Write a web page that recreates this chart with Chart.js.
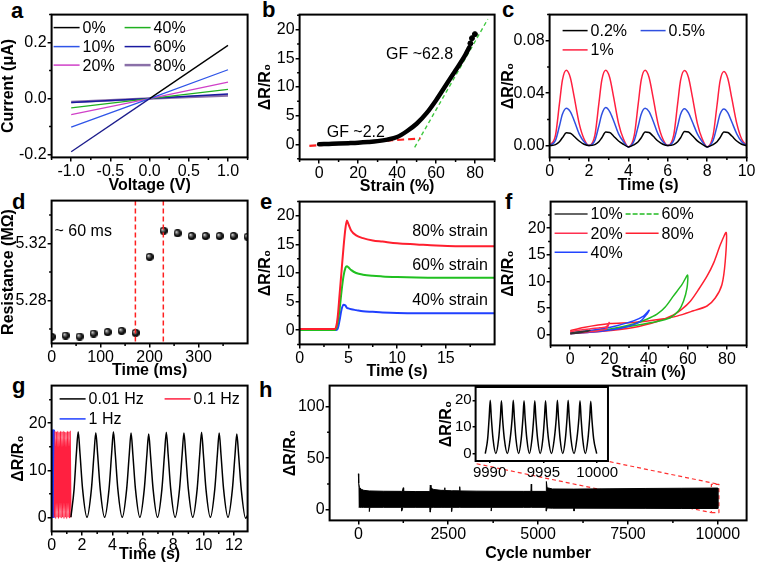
<!DOCTYPE html>
<html>
<head>
<meta charset="utf-8">
<script src="https://cdn.jsdelivr.net/npm/chart.js@4.4.0/dist/chart.umd.min.js"></script>
<style>
  html, body { margin: 0; padding: 0; background: #fff; }
  #fig { position: relative; width: 758px; height: 564px; overflow: hidden; background: #fff; }
  .tag { position: absolute; font: bold 22px/22px "Liberation Sans", Arial, sans-serif; color: #000; }
</style>
</head>
<body>
<div id="fig">
  <div class="tag" style="left:11px;top:0px">a</div>
  <div class="tag" style="left:262px;top:-1px">b</div>
  <div class="tag" style="left:502px;top:-1px">c</div>
  <div class="tag" style="left:12px;top:191px">d</div>
  <div class="tag" style="left:260px;top:191px">e</div>
  <div class="tag" style="left:505px;top:191px">f</div>
  <div class="tag" style="left:12px;top:375px">g</div>
  <div class="tag" style="left:259px;top:379px">h</div>
</div>
<script>
// ---- a: I-V curves at different strains
var aVolt = [-1, 0, 1];
var aLabels = ['0%', '10%', '20%', '40%', '60%', '80%'];
var aCur0 = [-0.19, 0, 0.19];
var aCur10 = [-0.102, 0, 0.103];
var aCur20 = [-0.057, 0, 0.059];
var aCur40 = [-0.033, 0, 0.033];
var aCur60 = [-0.014, 0, 0.016];
var aCur80 = [-0.012, 0, 0.011];

// ---- b: response vs strain
var bStrain = [0, 5, 10, 15, 20, 25, 30, 35, 40, 45, 50, 55, 60, 65, 70, 75, 77];
var bResp = [0.05, 0.1, 0.15, 0.22, 0.3, 0.42, 0.58, 0.85, 1.3, 2.3, 3.6, 5.4, 7.7, 10.3, 12.9, 15.6, 16.9];
var bEndStrain = [77.6, 78.4, 79.9];
var bEndResp = [17.6, 18.5, 19.2];
var bLowFitX = [-5, 52], bLowFitY = [-0.25, 1.05];
var bHighFitX = [49, 86.5], bHighFitY = [-0.5, 21.8];

// ---- c: small strains
var cLabels = ['0.2%', '0.5%', '1%'];
var cTime = [0, 0.3, 0.5, 0.65, 0.85, 1.05, 1.25, 1.5, 1.75,
  2, 2.3, 2.5, 2.65, 2.85, 3.05, 3.25, 3.5, 3.75,
  4, 4.3, 4.5, 4.65, 4.85, 5.05, 5.25, 5.5, 5.75,
  6, 6.3, 6.5, 6.65, 6.85, 7.05, 7.25, 7.5, 7.75,
  8, 8.3, 8.5, 8.65, 8.85, 9.05, 9.25, 9.5, 9.75, 10];
var cBlack = [0, 0.0008, 0.003, 0.006, 0.0098, 0.0095, 0.007, 0.0035, 0.001,
  0, 0.0008, 0.003, 0.006, 0.0103, 0.010, 0.0072, 0.0035, 0.001,
  -0.001, 0.0008, 0.003, 0.006, 0.0104, 0.010, 0.0073, 0.0035, 0.001,
  0, 0.0008, 0.003, 0.006, 0.0108, 0.0104, 0.0075, 0.0036, 0.001,
  -0.001, 0.0008, 0.003, 0.006, 0.0104, 0.010, 0.0073, 0.0035, 0.001, 0];
var cBlue = [0, 0.004, 0.015, 0.024, 0.0286, 0.026, 0.019, 0.009, 0.003,
  0, 0.004, 0.015, 0.024, 0.0290, 0.026, 0.019, 0.009, 0.003,
  -0.001, 0.004, 0.015, 0.024, 0.0285, 0.026, 0.019, 0.009, 0.003,
  0, 0.004, 0.015, 0.024, 0.0282, 0.025, 0.018, 0.009, 0.003,
  -0.001, 0.004, 0.015, 0.024, 0.0280, 0.025, 0.018, 0.009, 0.003, 0];
var cRed = [0, 0.008, 0.032, 0.050, 0.0575, 0.052, 0.037, 0.017, 0.005,
  0, 0.008, 0.032, 0.050, 0.0575, 0.052, 0.037, 0.017, 0.005,
  -0.001, 0.008, 0.032, 0.050, 0.0575, 0.052, 0.037, 0.017, 0.005,
  0, 0.008, 0.032, 0.050, 0.0573, 0.052, 0.037, 0.017, 0.005,
  -0.001, 0.008, 0.031, 0.049, 0.0565, 0.051, 0.036, 0.017, 0.005, 0];

// ---- d: response time
var dTime = [0, 28.6, 57.1, 85.7, 114.3, 142.9, 171.4, 200, 228.6, 257.1, 285.7, 314.3, 342.9, 371.4, 400];
var dRes = [5.2546, 5.2555, 5.2548, 5.2569, 5.2579, 5.2588, 5.2574, 5.3106, 5.3289, 5.3271, 5.3252, 5.3252, 5.3252, 5.3252, 5.3247];
var dMarks = [171, 228];

// ---- e: step strains
var eTime = [0, 3.6, 3.75, 3.9, 4.1, 4.3, 4.5, 4.7, 4.85, 5.0, 5.3, 5.8, 6.5, 7.5, 8.5, 10, 12, 14, 16, 20];
var e80 = [0.2, 0.2, 0.6, 2.2, 6.2, 10.3, 14.4, 17.8, 19.2, 18.6, 17.4, 16.6, 16.1, 15.7, 15.5, 15.2, 15.0, 14.8, 14.7, 14.7];
var e60 = [0, 0, 0.3, 1.3, 3.6, 6.8, 9.4, 10.9, 11.2, 11.0, 10.5, 10.0, 9.7, 9.5, 9.4, 9.3, 9.2, 9.15, 9.15, 9.15];
var e40 = [0, 0, 0, 0.2, 1.7, 3.6, 4.45, 4.3, 3.9, 3.8, 3.65, 3.5, 3.3, 3.2, 3.1, 3.0, 2.95, 2.95, 2.95, 2.95];

// ---- f: hysteresis loops
var fLabels = ['10%', '20%', '40%', '60%', '80%'];
var f10X = [0, 4, 8, 10, 7, 3, 0];
var f10Y = [0.2, 0.35, 0.6, 0.8, 0.65, 0.45, 0.3];
var f20X = [0, 5, 10, 15, 18.5, 19.9, 18.5, 15, 10, 5, 0];
var f20Y = [0.25, 0.4, 0.55, 0.8, 1.1, 2.3, 1.5, 1.3, 1.1, 0.9, 0.55];
var f40X = [0, 10, 20.4, 28.9, 35.7, 39.1, 40.3, 37.4, 32.3, 23.8, 15.3, 6.8, 0];
var f40Y = [0.25, 0.45, 0.87, 1.5, 2.5, 3.85, 4.6, 3.5, 2.6, 1.7, 1.06, 0.6, 0.3];
var f60X = [0, 6.8, 20.4, 32.3, 44.3, 51, 55.3, 57.8, 59.6, 59.9, 57, 52.7, 48.5, 44.3, 39.1, 32.3, 20.4, 6.8, 0];
var f60Y = [0.3, 0.55, 1.0, 1.7, 2.5, 3.2, 4.5, 6.3, 8.8, 11.2, 9.4, 7.3, 5.2, 3.85, 2.9, 2.0, 1.06, 0.56, 0.3];
var f80X = [0, 15.3, 32.3, 44.3, 52.7, 57, 61.3, 65.5, 69.8, 73.2, 76.6, 79.6, 79.1, 77.4, 74, 69.8, 62.9, 54.5, 45.9, 32.3, 20.4, 6.8, 0];
var f80Y = [0.25, 0.62, 1.36, 2.48, 3.72, 4.8, 6.3, 8.5, 11.0, 13.5, 16.9, 19.2, 13.8, 9.4, 6.9, 5.4, 4.5, 3.5, 2.9, 2.3, 2.1, 1.36, 0.74];

// ---- g: frequencies
var gLabels = ['0.01 Hz', '0.1 Hz', '1 Hz'];
var gSlowT = [1.27, 1.48, 1.63, 1.75, 1.87, 2.04,
  2.33, 2.62, 2.79, 2.91, 3.03, 3.20,
  3.49, 3.78, 3.95, 4.07, 4.19, 4.36,
  4.65, 4.94, 5.11, 5.23, 5.35, 5.52,
  5.81, 6.10, 6.27, 6.39, 6.51, 6.68,
  6.97, 7.26, 7.43, 7.55, 7.67, 7.84,
  8.13, 8.42, 8.59, 8.71, 8.83, 9.00,
  9.29, 9.58, 9.75, 9.87, 9.99, 10.16,
  10.45, 10.74, 10.91, 11.03, 11.15, 11.32,
  11.61, 11.90, 12.07, 12.19, 12.31, 12.48,
  12.77, 12.9];
var gSlowV = [0, 6, 13.5, 18.2, 13.5, 6,
  0, 6, 13.4, 18.0, 13.4, 6,
  0, 6, 13.5, 18.2, 13.5, 6,
  0, 6, 13.3, 17.9, 13.3, 6,
  0, 6, 13.2, 17.7, 13.2, 6,
  0, 6, 13.4, 18.1, 13.4, 6,
  0, 6, 13.3, 17.9, 13.3, 6,
  0, 6, 13.4, 18.1, 13.4, 6,
  0, 6, 13.3, 17.9, 13.3, 6,
  0, 6, 13.2, 17.7, 13.2, 6,
  -0.2, 0.4];
var gMidT = [0.18, 0.225, 0.271, 0.316, 0.362, 0.407, 0.452, 0.498, 0.543, 0.588, 0.634, 0.679, 0.725,
  0.770, 0.816, 0.861, 0.906, 0.952, 0.997, 1.042, 1.088, 1.133, 1.179, 1.224, 1.27];
var gMidV = [0, 18.3, -0.3, 18.2, 0, 18.3, -0.3, 18.1, 0, 18.3, -0.2, 18.2, 0,
  18.3, -0.3, 18.2, 0, 18.1, -0.3, 18.3, 0, 18.2, -0.2, 18.3, 0];
var gFastT = [0.03, 0.037, 0.044, 0.051, 0.058, 0.065, 0.072, 0.079, 0.086, 0.093, 0.100,
  0.107, 0.114, 0.121, 0.128, 0.135, 0.142, 0.149, 0.156, 0.163, 0.170, 0.177];
var gFastV = [0, 18.6, 0, 18.5, 0, 18.6, 0, 18.5, 0, 18.6, 0,
  18.5, 0, 18.6, 0, 18.5, 0, 18.6, 0, 18.5, 0, 18.6];

// ---- h: 10000 cycles (envelope of the dense trace)
var hCycle = [0, 10, 30, 80, 150,
  300, 310, 320, 700,
  1200, 1210, 1220, 1240, 1250, 1260,
  1600, 1990, 2000, 2020, 2100, 2300,
  2390, 2400, 2410,
  2590, 2600, 2610,
  2810, 2820, 2830,
  3300,
  3690, 3700, 3710,
  4600,
  4800, 4810, 4820,
  5200, 5220, 5230, 5250, 5400,
  5990, 6000, 6010,
  7000, 8000, 9000, 10000];
var hHigh = [35, 26, 22, 20, 19,
  18.4, 18.4, 18.4, 18.1,
  18, 18, 18, 18, 21.5, 18,
  17.8, 17.8, 24, 21, 19.8, 19,
  19, 21.5, 18.8,
  18.6, 18.6, 18.6,
  18.5, 22.5, 18.4,
  18.2,
  18.1, 18.1, 18.1,
  18,
  18, 25, 18,
  18, 18, 27.5, 21.5, 20.3,
  20.2, 20.2, 20.2,
  20.5, 20.8, 21, 21.2];
var hLow = [2.6, 2.6, 2.6, 2.6, 2.6,
  2.6, -1.5, 2.6, 2.6,
  2.6, -1, 2.6, 2.6, 2.6, 2.6,
  2.6, 2.6, -2, 2.6, 2.6, 2.6,
  2.6, 2.6, 2.6,
  2.6, -1.5, 2.6,
  2.6, 2.6, 2.6,
  2.6,
  2.6, -1, 2.6,
  2.6,
  2.6, 2.6, 2.6,
  2.6, 2.6, -1, 2, 1.8,
  1.8, -1, 1.8,
  1.7, 1.6, 1.5, 1.5];
var boxX = [9820, 10030, 10030, 9820, 9820];
var boxY = [-2.5, -2.5, 24.8, 24.8, -2.5];
var linkX1 = [3290, 9820], linkY1 = [44.6, -2.5];
var linkX2 = [6990, 10030], linkY2 = [46.6, 24.8];

// ---- inset: last 10 cycles
var insT = [9989.6, 9989.82, 9989.96, 9990.06, 9990.16, 9990.32,
  9990.58, 9990.84, 9991.0, 9991.1, 9991.2, 9991.37,
  9991.65, 9991.91, 9992.1, 9992.2, 9992.3, 9992.45,
  9992.7, 9992.94, 9993.1, 9993.2, 9993.3, 9993.46,
  9993.7, 9993.94, 9994.1, 9994.2, 9994.3, 9994.46,
  9994.7, 9994.95, 9995.1, 9995.2, 9995.3, 9995.47,
  9995.75, 9996.01, 9996.2, 9996.3, 9996.4, 9996.55,
  9996.8, 9997.04, 9997.2, 9997.3, 9997.4, 9997.56,
  9997.85, 9998.11, 9998.3, 9998.4, 9998.5, 9998.65,
  9998.9, 9999.14, 9999.3, 9999.4, 9999.5, 9999.67,
  9999.95];
var insV = [0, 5.5, 13.5, 20, 13.5, 5.5,
  0, 5.5, 13.4, 19.8, 13.4, 5.5,
  0, 5.5, 13.5, 20, 13.5, 5.5,
  0, 5.5, 13.4, 19.8, 13.4, 5.5,
  0, 5.5, 13.4, 19.8, 13.4, 5.5,
  0, 5.5, 13.4, 19.8, 13.4, 5.5,
  0, 5.5, 13.5, 20, 13.5, 5.5,
  0, 5.5, 13.5, 20, 13.5, 5.5,
  0, 5.5, 13.4, 19.8, 13.4, 5.5,
  0, 5.5, 13.3, 19.6, 13.3, 5.5,
  0];

var FONT = '"Liberation Sans", Arial, sans-serif';
Chart.defaults.font.family = FONT;
Chart.defaults.font.size = 16;
Chart.defaults.color = '#000';
Chart.defaults.animation = false;
Chart.defaults.plugins.legend.display = false;
Chart.defaults.plugins.tooltip.enabled = false;
Chart.defaults.elements.point.radius = 0;
Chart.defaults.elements.line.borderWidth = 1.5;
Chart.defaults.elements.line.borderJoinStyle = 'round';

function pts(xs, ys) {
    return xs.map((x, i) => ({x: x, y: ys[i]}));
}

// box frame + minor ticks (+ optional white paper for the inset)
var frame = {
    id: 'frame',
    beforeDraw(chart, args, o) {
        if (!o.paper) return;
        var a = chart.chartArea, ctx = chart.ctx;
        ctx.save();
        ctx.fillStyle = '#fff';
        ctx.fillRect(a.left, a.top, a.right - a.left, a.bottom - a.top);
        ctx.restore();
    },
    afterDraw(chart, args, o) {
        var a = chart.chartArea, ctx = chart.ctx;
        ctx.save();
        ctx.strokeStyle = '#000';
        ctx.lineWidth = 1.5;
        if (o.minor !== false) {
            ['x', 'y'].forEach(k => {
                var s = chart.scales[k];
                var t = s.ticks.map(it => it.value);
                if (t.length < 2) return;
                var step = t[1] - t[0];
                ctx.beginPath();
                for (var v = t[0] - step / 2; v <= s.max; v += step) {
                    if (v < s.min) continue;
                    var p = s.getPixelForValue(v);
                    if (k === 'x') { ctx.moveTo(p, a.bottom); ctx.lineTo(p, a.bottom + 2.5); }
                    else { ctx.moveTo(a.left, p); ctx.lineTo(a.left - 2.5, p); }
                }
                ctx.stroke();
            });
        }
        ctx.lineWidth = 2;
        ctx.strokeRect(a.left, a.top, a.right - a.left, a.bottom - a.top);
        ctx.restore();
    }
};

// in-plot legend laid out in a grid
var keys = {
    id: 'keys',
    afterDraw(chart, args, o) {
        if (!o.cols) return;
        var a = chart.chartArea, ctx = chart.ctx;
        var items = chart.data.datasets.filter(d => d.label);
        ctx.save();
        ctx.font = '16px ' + FONT;
        ctx.textBaseline = 'middle';
        ctx.fillStyle = '#000';
        items.forEach((d, i) => {
            var col = o.byCol ? Math.floor(i / o.rows.length) : i % o.cols.length;
            var row = o.byCol ? i % o.rows.length : Math.floor(i / o.cols.length);
            var x = a.left + o.cols[col], y = a.top + o.rows[row];
            ctx.strokeStyle = d.borderColor;
            ctx.lineWidth = d.keyWidth || 1.5;
            ctx.setLineDash(d.keyDash || []);
            ctx.beginPath();
            ctx.moveTo(x, y);
            ctx.lineTo(x + o.len, y);
            ctx.stroke();
            ctx.setLineDash([]);
            ctx.fillText(d.label, x + o.len + 3, y + 1);
        });
        ctx.restore();
    }
};

// text notes placed in data coordinates
var notes = {
    id: 'notes',
    afterDatasetsDraw(chart, args, o) {
        if (!o.items) return;
        var ctx = chart.ctx, sx = chart.scales.x, sy = chart.scales.y;
        ctx.save();
        ctx.font = '16px ' + FONT;
        ctx.fillStyle = '#000';
        ctx.textBaseline = 'middle';
        o.items.forEach(it => {
            ctx.textAlign = it.align || 'left';
            ctx.fillText(it.text, sx.getPixelForValue(it.x), sy.getPixelForValue(it.y));
        });
        ctx.restore();
    }
};

// red dashed vertical markers
var vlines = {
    id: 'vlines',
    afterDatasetsDraw(chart, args, o) {
        if (!o.at) return;
        var a = chart.chartArea, ctx = chart.ctx, sx = chart.scales.x;
        ctx.save();
        ctx.strokeStyle = '#ff2020';
        ctx.lineWidth = 1.5;
        ctx.setLineDash([5, 3]);
        o.at.forEach(v => {
            var p = sx.getPixelForValue(v);
            ctx.beginPath();
            ctx.moveTo(p, a.top);
            ctx.lineTo(p, a.bottom);
            ctx.stroke();
        });
        ctx.restore();
    }
};

function axis(min, max, ticks, dec, title, font, tickLen) {
    return {
        type: 'linear', min: min, max: max,
        afterBuildTicks: s => { s.ticks = ticks.map(v => ({value: v})); },
        ticks: { callback: v => v.toFixed(dec), padding: 1, maxRotation: 0, autoSkip: false, font: {size: font || 16} },
        grid: { drawOnChartArea: false, drawTicks: true, tickLength: tickLen || 4, color: '#000', lineWidth: 1.5 },
        border: { display: false },
        title: title ? { display: true, text: title, font: {size: 16, weight: 'bold'}, padding: 0 } : { display: false }
    };
}

// box = [plotLeft, plotTop, plotRight, plotBottom, yTitleCenterX, xTitleCenterY]
function panel(box, datasets, x, y, opts) {
    var l = box[0], t = box[1], r = box[2], b = box[3];
    var left = box[4] - 9.6;
    var top = Math.max(0, t - 10);
    var bottom = box[5] ? box[5] + 9.6 : b + 20;
    var cw = Math.round(r + 11 - left), ch = Math.round(bottom - top);
    var cv = document.createElement('canvas');
    cv.width = cw;
    cv.height = ch;
    cv.style.cssText = 'position:absolute;left:' + left + 'px;top:' + top + 'px;width:' + cw + 'px;height:' + ch + 'px';
    document.getElementById('fig').appendChild(cv);
    x.afterFit = s => { s.height = bottom - b; };
    y.afterFit = s => { s.width = l - left; };
    return new Chart(cv, {
        type: 'line',
        data: { datasets: datasets },
        options: {
            responsive: false,
            layout: { padding: { left: 0, top: t - top, right: cw - (r - left), bottom: 0 } },
            scales: { x: x, y: y },
            plugins: Object.assign({ frame: {} }, opts || {})
        },
        plugins: [frame, keys, notes, vlines]
    });
}

function sphere(r) {
    var c = document.createElement('canvas');
    c.width = c.height = 2 * r;
    var g = c.getContext('2d');
    var grd = g.createRadialGradient(r * 0.65, r * 0.65, 0, r, r, r);
    grd.addColorStop(0, '#fff');
    grd.addColorStop(0.3, '#777');
    grd.addColorStop(0.7, '#111');
    grd.addColorStop(1, '#000');
    g.fillStyle = grd;
    g.beginPath();
    g.arc(r, r, r, 0, Math.PI * 2);
    g.fill();
    return c;
}

// ---- a
panel([52, 14, 248, 157, 9, 185], [
    { label: aLabels[0], data: pts(aVolt, aCur0), borderColor: '#000', borderWidth: 1.3,
      segment: { borderColor: c => c.p0.parsed.x < 0 ? '#1c1c8c' : undefined } },
    { label: aLabels[1], data: pts(aVolt, aCur10), borderColor: '#2f55e8', borderWidth: 1.3 },
    { label: aLabels[2], data: pts(aVolt, aCur20), borderColor: '#d040c8', borderWidth: 1.3 },
    { label: aLabels[3], data: pts(aVolt, aCur40), borderColor: '#20b020', borderWidth: 1.3 },
    { label: aLabels[4], data: pts(aVolt, aCur60), borderColor: '#1a1aa0', borderWidth: 1.5 },
    { label: aLabels[5], data: pts(aVolt, aCur80), borderColor: '#8a70a8', borderWidth: 2.5, keyWidth: 2.5 }
], axis(-1.25, 1.25, [-1, -0.5, 0, 0.5, 1], 1, 'Voltage (V)'),
   axis(-0.21, 0.3, [-0.2, 0, 0.2], 1, 'Current (\u03bcA)'),
   { keys: { cols: [2, 73], rows: [13, 32, 50.5], len: 26, byCol: true } });

// ---- b
panel([300, 14, 495, 159, 266, 186], [
    { data: pts(bStrain, bResp), borderColor: '#000', borderWidth: 4.5, cubicInterpolationMode: 'monotone', borderCapStyle: 'round' },
    { data: pts(bEndStrain, bEndResp), borderColor: '#000', showLine: false, pointRadius: 2.5, pointBackgroundColor: '#000' },
    { data: pts(bLowFitX, bLowFitY), borderColor: '#ff2020', borderWidth: 2.2, borderDash: [7, 4] },
    { data: pts(bHighFitX, bHighFitY), borderColor: '#40c840', borderWidth: 1.4, borderDash: [4, 3] }
], axis(-10, 90, [0, 20, 40, 60, 80], 0, 'Strain (%)'),
   axis(-2.6, 22.6, [0, 5, 10, 15, 20], 0, '\u0394R/R\u2080'),
   { notes: { items: [ { text: 'GF ~62.8', x: 34.3, y: 15.7 }, { text: 'GF ~2.2', x: 3.9, y: 2.0 } ] } });

// ---- c
panel([550, 14, 747, 157, 509, 185], [
    { label: cLabels[0], data: pts(cTime, cBlack), borderColor: '#000', cubicInterpolationMode: 'monotone' },
    { label: cLabels[1], data: pts(cTime, cBlue), borderColor: '#3050e0', cubicInterpolationMode: 'monotone' },
    { label: cLabels[2], data: pts(cTime, cRed), borderColor: '#ff2040', cubicInterpolationMode: 'monotone' }
], axis(0, 10, [0, 2, 4, 6, 8, 10], 0, 'Time (s)'),
   axis(-0.009, 0.1, [0, 0.04, 0.08], 2, '\u0394R/R\u2080'),
   { keys: { cols: [13, 91], rows: [16, 35.3], len: 25 } });

// ---- d
panel([52, 200, 248, 343, 9, 370], [
    { data: pts(dTime, dRes), showLine: false, pointStyle: sphere(4), pointRadius: 4 }
], axis(0, 400, [0, 100, 200, 300], 0, 'Time (ms)'),
   axis(5.25, 5.35, [5.28, 5.32], 2, 'Resistance (M\u03a9)'),
   { vlines: { at: dMarks }, notes: { items: [ { text: '~ 60 ms', x: 6, y: 5.3285 } ] } });

// ---- e
panel([300, 201, 495, 344, 266, 371], [
    { data: pts(eTime, e80), borderColor: '#ff1f2e', borderWidth: 2, cubicInterpolationMode: 'monotone' },
    { data: pts(eTime, e60), borderColor: '#20c020', borderWidth: 2, cubicInterpolationMode: 'monotone' },
    { data: pts(eTime, e40), borderColor: '#2040ff', borderWidth: 2, cubicInterpolationMode: 'monotone' }
], axis(0, 20, [0, 5, 10, 15], 0, 'Time (s)'),
   axis(-2.5, 22.5, [0, 5, 10, 15, 20], 0, '\u0394R/R\u2080'),
   { notes: { items: [
       { text: '80% strain', x: 19.3, y: 17.3, align: 'right' },
       { text: '60% strain', x: 19.3, y: 11.25, align: 'right' },
       { text: '40% strain', x: 19.3, y: 5.2, align: 'right' } ] } });

// ---- f
panel([551, 201, 747, 345, 509, 372], [
    { label: fLabels[0], data: pts(f10X, f10Y), borderColor: '#333', tension: 0.25 },
    { label: fLabels[1], data: pts(f20X, f20Y), borderColor: '#ff3050', tension: 0.25 },
    { label: fLabels[2], data: pts(f40X, f40Y), borderColor: '#2244ff', tension: 0.25 },
    { label: fLabels[3], data: pts(f60X, f60Y), borderColor: '#22bb22', tension: 0.25, keyDash: [5, 2] },
    { label: fLabels[4], data: pts(f80X, f80Y), borderColor: '#ff2030', tension: 0.25 }
], axis(-10, 90, [0, 20, 40, 60, 80], 0, 'Strain (%)'),
   axis(-2, 25, [0, 5, 10, 15, 20], 0, '\u0394R/R\u2080'),
   { keys: { cols: [4, 75], rows: [12.3, 31.7, 50.7], len: 33, byCol: true } });

// ---- g
panel([52, 385, 248, 531, 19, 554], [
    { label: gLabels[0], data: pts(gSlowT, gSlowV), borderColor: '#000', cubicInterpolationMode: 'monotone' },
    { label: gLabels[1], data: pts(gMidT, gMidV), borderColor: '#ff2040', borderWidth: 1.2, cubicInterpolationMode: 'monotone' },
    { label: gLabels[2], data: pts(gFastT, gFastV), borderColor: '#2040ff', borderWidth: 1, cubicInterpolationMode: 'monotone' }
], axis(0, 12.9, [0, 2, 4, 6, 8, 10, 12], 0, 'Time (s)'),
   axis(-3, 28, [0, 10, 20], 0, '\u0394R/R\u2080'),
   { keys: { cols: [8, 113], rows: [13.3, 33.3], len: 26 } });

// ---- h: dense trace drawn as a filled band (upper envelope out, lower envelope back)
panel([330, 385, 747, 520, 291, 553], [
    { data: pts(hCycle.concat(hCycle.slice().reverse()), hHigh.concat(hLow.slice().reverse())),
      borderColor: '#000', borderWidth: 1, fill: 'shape', backgroundColor: '#000' },
    { data: pts(boxX, boxY), borderColor: '#ff3030', borderWidth: 1.2, borderDash: [4, 3] },
    { data: pts(linkX1, linkY1), borderColor: '#ff3030', borderWidth: 1.2, borderDash: [4, 3] },
    { data: pts(linkX2, linkY2), borderColor: '#ff3030', borderWidth: 1.2, borderDash: [4, 3] }
], axis(-800, 10800, [0, 2500, 5000, 7500, 10000], 0, 'Cycle number'),
   axis(-10, 120, [0, 50, 100], 0, '\u0394R/R\u2080'));

// ---- inset
panel([476, 387, 609, 461, 447, 0], [
    { data: pts(insT, insV), borderColor: '#000', cubicInterpolationMode: 'monotone' }
], axis(9988.7, 10001, [9990, 9995, 10000], 0, '', 15, 2),
   axis(-2.8, 25, [0, 10, 20], 0, '\u0394R/R\u2080', 15, 3),
   { frame: { paper: true, minor: false } });
</script>
</body>
</html>
